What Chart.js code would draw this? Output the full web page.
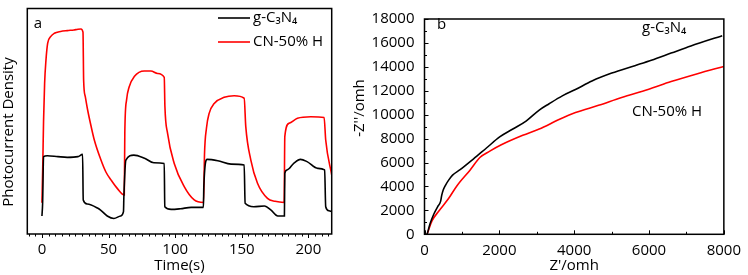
<!DOCTYPE html>
<html>
<head>
<meta charset="utf-8">
<script src="https://cdn.jsdelivr.net/npm/chart.js@4/dist/chart.umd.min.js"></script>
<style>
  html, body { margin: 0; padding: 0; background: #fff; }
  #wrap { position: relative; width: 748px; height: 275px; }
  #boxA { position: absolute; left: 0; top: 0; width: 340px; height: 275px; }
  #boxB { position: absolute; left: 340px; top: 0; width: 408px; height: 275px; }
</style>
</head>
<body>
<div id="wrap">
  <div id="boxA"><canvas id="chartA"></canvas></div>
  <div id="boxB"><canvas id="chartB"></canvas></div>
</div>
<script>
// (a) photocurrent response, time in s, arbitrary units
const timeBlack = [0, 0.5, 1.2, 4, 12, 19, 27, 30.5, 31, 34, 42, 44, 49, 54, 59, 61.2, 61.5, 63, 69, 77, 84, 91.8, 92.2, 97, 104, 112, 121.2, 121.5, 124, 132, 142, 151.8, 152.5, 159, 167, 172, 177, 182, 182.3, 184, 189, 194, 199, 207, 212.2, 213, 215.5, 217.5];
const photoBlack = [8.0, 13.6, 34.3, 34.7, 34.3, 34.0, 34.3, 35.3, 15.1, 13.3, 11.4, 10.6, 8.0, 6.9, 8.0, 9.9, 16.6, 32.8, 35.0, 33.6, 31.6, 31.3, 12.1, 10.9, 11.2, 11.8, 11.8, 21.0, 33.1, 32.5, 31.0, 30.6, 13.6, 12.1, 12.4, 10.6, 8.0, 8.0, 26.9, 28.4, 31.3, 33.1, 32.1, 29.1, 28.4, 12.1, 10.3, 9.9];

const timeRed = [0, 0.6, 1.2, 2, 3, 4.3, 6.5, 9.3, 14, 19, 24, 27, 29.3, 30.8, 31.3, 32.5, 34.3, 36.8, 39.3, 44.3, 48, 51.8, 56.8, 61.8, 62.2, 63.5, 65.5, 69.3, 76.8, 81.8, 86.8, 91.8, 92.3, 94.3, 99.3, 106.8, 114.3, 121.3, 122, 123.5, 125.5, 129.3, 136.8, 144.3, 151.8, 153, 156.8, 161.8, 169.3, 175, 181.8, 182.3, 185.5, 191.8, 201.8, 211.8, 213, 217.5];
const photoRed = [13.9, 30, 50, 66.8, 77, 84.6, 87.5, 89.0, 89.8, 90.2, 90.5, 90.8, 90.9, 89.5, 68, 61, 55, 48, 41.7, 32.8, 27.5, 24, 20, 17.3, 45, 59.4, 65.3, 69.8, 72.3, 72.3, 71.2, 69.5, 56.5, 44.6, 31.3, 21.0, 15.1, 14.0, 35, 47, 53.5, 57.9, 60.6, 61.3, 60.2, 47.6, 32.8, 22.5, 15.8, 14.5, 14.0, 43.2, 49.1, 51.3, 52.0, 51.7, 41.7, 26.2];
const timeTicks = [0, 50, 100, 150, 200];

// (b) Nyquist plot, ohm
const zReBlack = [70, 150, 250, 350, 430, 460, 500, 560, 650, 750, 952, 1304, 1656, 2009, 2361, 2714, 3066, 3331, 3683, 4035, 4476, 5005, 5621, 6062, 6591, 7119, 7956];
const zImBlack = [0, 900, 1700, 2300, 2750, 3250, 3700, 4100, 4550, 4950, 5400, 6290, 7215, 8140, 8801, 9462, 10387, 10916, 11576, 12105, 12819, 13479, 14100, 14550, 15150, 15750, 16600];
const zReRed = [70, 203, 379, 643, 864, 1216, 1480, 1745, 2053, 2626, 3066, 3595, 4035, 4652, 5269, 5974, 6591, 7296, 8000];
const zImRed = [0, 1137, 1929, 2987, 4044, 5365, 6422, 6951, 7480, 8273, 8801, 9594, 10176, 10784, 11444, 12105, 12766, 13427, 14034];

const seriesNames = ['g-C\u2083N\u2084', 'CN-50% H'];
const seriesColors = ['#000000', '#ff0000'];

const FONT = "'Open Sans', sans-serif";
Chart.defaults.font.family = FONT;
Chart.defaults.font.size = 15;
Chart.defaults.color = '#000';

function pts(xs, ys) {
  return xs.map((x, i) => ({ x: x, y: ys[i] }));
}

// frame around the plot area + major/minor tick marks
function frameTicks(cfg) {
  return {
    id: 'frameTicks',
    afterDraw(chart) {
      const { ctx, chartArea: a, scales } = chart;
      ctx.save();
      ctx.strokeStyle = '#000';
      ctx.lineWidth = 1.5;
      ctx.strokeRect(a.left, a.top, a.right - a.left, a.bottom - a.top);
      ctx.lineWidth = 1;
      ctx.beginPath();
      const xs = scales.x;
      for (let v = cfg.xFrom; v <= xs.max + 1e-6; v += cfg.xMinor) {
        const px = Math.round(xs.getPixelForValue(v)) + 0.5;
        const major = Math.abs(v / cfg.xMajor - Math.round(v / cfg.xMajor)) < 1e-6;
        const len = major ? cfg.majorLen : cfg.minorLen;
        ctx.moveTo(px, a.bottom);
        ctx.lineTo(px, a.bottom + cfg.dir * len);
      }
      if (cfg.yMinor) {
        const ys = scales.y;
        for (let v = ys.min; v <= ys.max + 1e-6; v += cfg.yMinor) {
          const py = Math.round(ys.getPixelForValue(v)) + 0.5;
          const major = Math.abs(v / cfg.yMajor - Math.round(v / cfg.yMajor)) < 1e-6;
          const len = major ? cfg.majorLen : cfg.minorLen;
          ctx.moveTo(a.left, py);
          ctx.lineTo(a.left - cfg.dir * len, py);
        }
      }
      ctx.stroke();
      ctx.restore();
    }
  };
}

// panel letters, in-plot labels, rotated y title and the hand-made legend
function annotations(items, yTitle, legend) {
  return {
    id: 'annotations',
    afterDraw(chart) {
      const ctx = chart.ctx;
      ctx.save();
      ctx.font = '15px ' + FONT;
      ctx.fillStyle = '#000';
      ctx.textBaseline = 'middle';
      items.forEach(t => {
        ctx.textAlign = t.align || 'left';
        ctx.fillText(t.text, t.x, t.y);
      });
      ctx.save();
      ctx.translate(yTitle.x, yTitle.y);
      ctx.rotate(-Math.PI / 2);
      ctx.textAlign = 'center';
      ctx.fillText(yTitle.text, 0, 0);
      ctx.restore();
      if (legend) {
        chart.data.datasets.forEach((ds, i) => {
          const y = legend.y + i * legend.gap;
          ctx.strokeStyle = ds.borderColor;
          ctx.lineWidth = 1.6;
          ctx.beginPath();
          ctx.moveTo(legend.x, y);
          ctx.lineTo(legend.x + legend.len, y);
          ctx.stroke();
          ctx.textAlign = 'left';
          ctx.fillText(ds.label, legend.x + legend.len + 3, y);
        });
      }
      ctx.restore();
    }
  };
}

new Chart(document.getElementById('chartA'), {
  type: 'line',
  data: {
    datasets: [
      { label: seriesNames[0], data: pts(timeBlack, photoBlack), borderColor: seriesColors[0] },
      { label: seriesNames[1], data: pts(timeRed, photoRed), borderColor: seriesColors[1] }
    ]
  },
  options: {
    responsive: true,
    maintainAspectRatio: false,
    animation: false,
    layout: { padding: { top: 8.5, right: 8.3, left: 0, bottom: 0 } },
    elements: {
      point: { radius: 0 },
      line: { borderWidth: 1.6, cubicInterpolationMode: 'monotone' }
    },
    plugins: { legend: { display: false }, tooltip: { enabled: false } },
    scales: {
      x: {
        type: 'linear', min: -11, max: 217.5,
        grid: { display: false, drawTicks: false },
        border: { display: false },
        ticks: { padding: 7, autoSkip: false },
        afterBuildTicks: s => { s.ticks = timeTicks.map(v => ({ value: v })); },
        title: { display: true, text: 'Time(s)', padding: { top: 0, bottom: 0 } },
        afterFit: s => { s.height = 41; }
      },
      y: {
        min: 0, max: 100,
        grid: { display: false, drawTicks: false },
        border: { display: false },
        ticks: { display: false },
        afterFit: s => { s.width = 27.3; }
      }
    }
  },
  plugins: [
    frameTicks({ xFrom: -10, xMinor: 5, xMajor: 50, dir: 1, majorLen: 4, minorLen: 2.5 }),
    annotations([{ text: 'a', x: 38, y: 24, align: 'center' }],
      { text: 'Photocurrent Density', x: 9, y: 132 },
      { x: 218, y: 18, gap: 24, len: 32 })
  ]
});

new Chart(document.getElementById('chartB'), {
  type: 'line',
  data: {
    datasets: [
      { label: seriesNames[0], data: pts(zReBlack, zImBlack), borderColor: seriesColors[0] },
      { label: seriesNames[1], data: pts(zReRed, zImRed), borderColor: seriesColors[1] }
    ]
  },
  options: {
    responsive: true,
    maintainAspectRatio: false,
    animation: false,
    layout: { padding: { top: 8.3, right: 19.7, left: 0, bottom: 0 } },
    elements: {
      point: { radius: 0 },
      line: { borderWidth: 1.6, cubicInterpolationMode: 'monotone' }
    },
    plugins: { legend: { display: false }, tooltip: { enabled: false } },
    scales: {
      x: {
        type: 'linear', min: 0, max: 8000,
        grid: { display: false, drawTicks: false },
        border: { display: false },
        ticks: { padding: 7, stepSize: 2000, callback: v => String(v) },
        title: { display: true, text: "Z'/omh", padding: { top: 0, bottom: 0 } },
        afterFit: s => { s.height = 40.7; }
      },
      y: {
        min: 0, max: 18000,
        grid: { display: false, drawTicks: false },
        border: { display: false },
        ticks: { padding: 10, stepSize: 2000, callback: v => String(v) },
        afterFit: s => { s.width = 84.5; }
      }
    }
  },
  plugins: [
    frameTicks({ xFrom: 0, xMinor: 1000, xMajor: 2000, yMinor: 1000, yMajor: 2000, dir: -1, majorLen: 4, minorLen: 2.5 }),
    annotations([
      { text: 'b', x: 101.7, y: 25, align: 'center' },
      { text: seriesNames[0], x: 302, y: 28 },
      { text: seriesNames[1], x: 292, y: 112 }
    ], { text: "-Z''/omh", x: 20, y: 108 })
  ]
});
</script>
</body>
</html>
